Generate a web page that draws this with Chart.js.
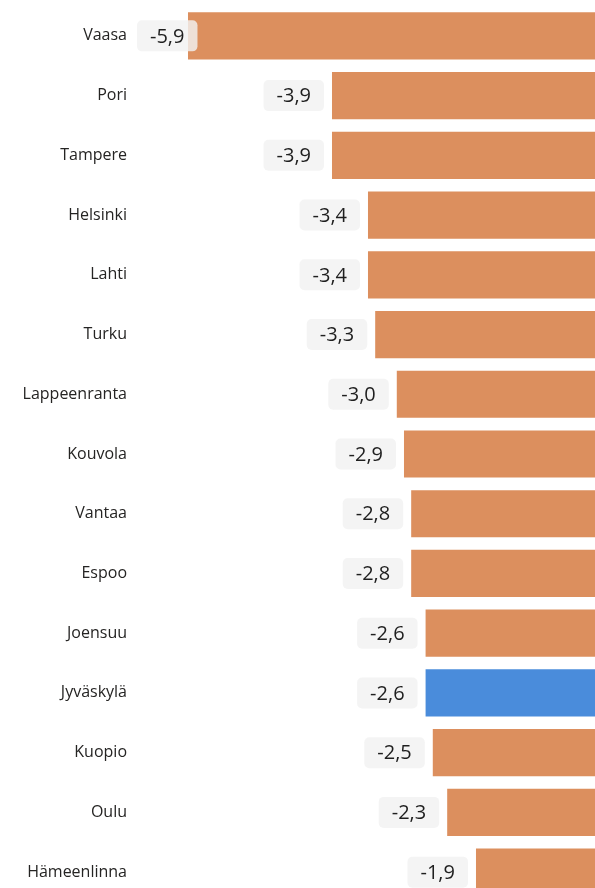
<!DOCTYPE html>
<html>
<head>
<meta charset="utf-8">
<script src="https://cdn.jsdelivr.net/npm/chart.js@4"></script>
<style>
    html, body {
        margin: 0;
        padding: 0;
        background: #ffffff;
        overflow: hidden;
        height: 888px;
    }
    #cityChart {
        position: absolute;
        left: 0;
        top: 6px;
    }
</style>
</head>
<body>
<canvas id="cityChart" width="595" height="896"></canvas>
<script>
// ======================
// DATA
// ======================
const cities = [
    "Vaasa", "Pori", "Tampere", "Helsinki", "Lahti",
    "Turku", "Lappeenranta", "Kouvola", "Vantaa", "Espoo",
    "Joensuu", "Jyväskylä", "Kuopio", "Oulu", "Hämeenlinna"
];

const changes = [
    -5.9, -3.9, -3.9, -3.4, -3.4,
    -3.3, -3.0, -2.9, -2.8, -2.8,
    -2.6, -2.6, -2.5, -2.3, -1.9
];

const highlightCity = "Jyväskylä";

const barColors =
    cities.map(
        c => c === highlightCity ? "#4a8cdb" : "#dc8f5e"
    );

// ======================
// VALUE BOXES
// ======================
const valueBoxes = {
    id: "valueBoxes",
    afterDatasetsDraw(chart) {
        const ctx = chart.ctx;
        const area = chart.chartArea;
        const meta = chart.getDatasetMeta(0);

        ctx.save();
        ctx.font = "20px 'Open Sans', sans-serif";
        ctx.textBaseline = "middle";
        ctx.textAlign = "center";

        meta.data.forEach((bar, i) => {
            const text = changes[i].toFixed(1).replace(".", ",");
            const w = ctx.measureText(text).width + 26;
            const h = 31;
            let left = bar.x - 8 - w;
            if (left < area.left + 2) {
                left = area.left + 2;
            }
            const top = bar.y - h / 2;

            ctx.fillStyle = "rgba(242,242,242,0.82)";
            ctx.beginPath();
            ctx.roundRect(left, top, w, h, 5);
            ctx.fill();

            ctx.fillStyle = "#1f1f1f";
            ctx.fillText(text, left + w / 2, bar.y + 1);
        });

        ctx.restore();
    }
};

new Chart(
    document.getElementById("cityChart"),
    {
        type: "bar",

        data: {
            labels: cities,
            datasets: [{
                data: changes,
                backgroundColor: barColors,
                borderWidth: 0,
                categoryPercentage: 1,
                barPercentage: 0.79
            }]
        },

        options: {
            indexAxis: "y",
            responsive: false,
            animation: false,
            layout: {
                padding: 0
            },

            plugins: {
                legend: { display: false },
                tooltip: { enabled: false }
            },

            scales: {
                x: {
                    display: false,
                    min: -6.636,
                    max: -0.247
                },
                y: {
                    afterFit(scale) {
                        scale.width = 135;
                        scale.paddingTop = 0;
                        scale.paddingBottom = 0;
                    },
                    grid: { display: false, drawTicks: false },
                    border: { display: false },
                    ticks: {
                        padding: 8,
                        color: "#252423",
                        font: {
                            family: "'Open Sans', sans-serif",
                            size: 16
                        }
                    }
                }
            }
        },

        plugins: [valueBoxes]
    }
);
</script>
</body>
</html>
